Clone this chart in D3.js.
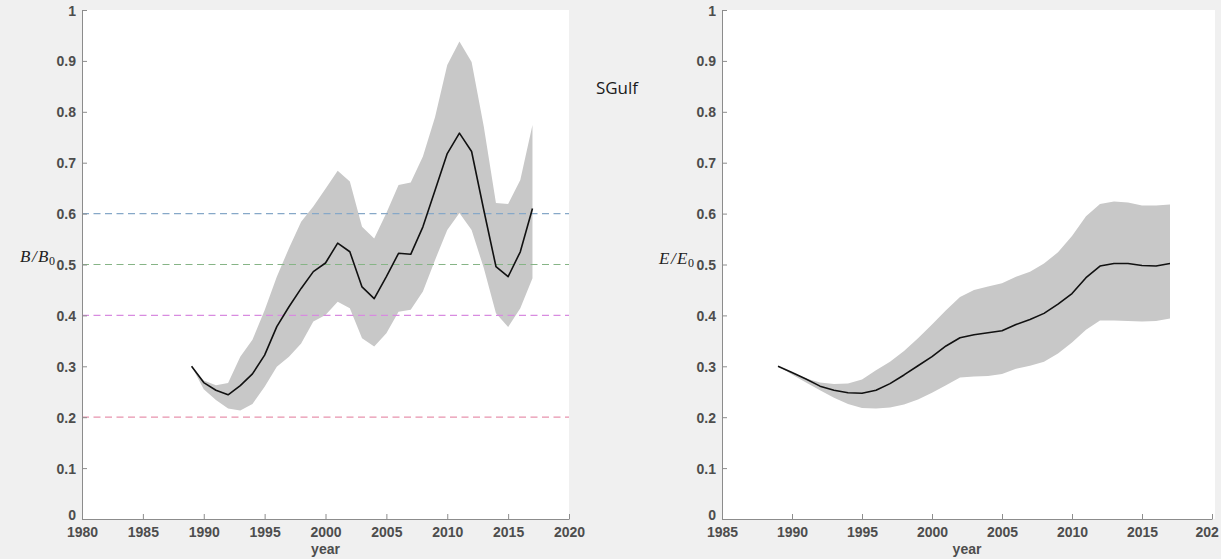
<!DOCTYPE html>
<html>
<head>
<meta charset="utf-8">
<script src="https://cdn.jsdelivr.net/npm/d3@7"></script>
<style>
  html, body { margin: 0; padding: 0; background: #f0f0f0; }
  svg { display: block; }
  .tick text { font-family: "Liberation Sans", Arial, sans-serif; font-size: 14px; font-weight: bold; fill: #4d4d4d; }
</style>
</head>
<body>
<svg id="fig" width="1228" height="559"></svg>
<script>
// Stock status series, 1989–2017
const years = [1989, 1990, 1991, 1992, 1993, 1994, 1995, 1996, 1997, 1998,
               1999, 2000, 2001, 2002, 2003, 2004, 2005, 2006, 2007, 2008,
               2009, 2010, 2011, 2012, 2013, 2014, 2015, 2016, 2017];

// Biomass relative to unfished (B/B0): median and credible band
const bMedian = [0.300, 0.268, 0.253, 0.244, 0.262, 0.285, 0.322, 0.378, 0.417, 0.453,
                 0.486, 0.503, 0.542, 0.525, 0.456, 0.433, 0.476, 0.522, 0.520, 0.574,
                 0.646, 0.718, 0.758, 0.722, 0.607, 0.496, 0.476, 0.525, 0.610];
const bUpper  = [0.300, 0.272, 0.263, 0.267, 0.319, 0.352, 0.410, 0.476, 0.532, 0.584,
                 0.614, 0.649, 0.684, 0.663, 0.574, 0.551, 0.601, 0.656, 0.661, 0.712,
                 0.790, 0.892, 0.938, 0.898, 0.771, 0.621, 0.619, 0.666, 0.774];
const bLower  = [0.300, 0.255, 0.234, 0.217, 0.213, 0.226, 0.260, 0.299, 0.319, 0.345,
                 0.388, 0.401, 0.427, 0.414, 0.355, 0.339, 0.365, 0.407, 0.411, 0.447,
                 0.509, 0.568, 0.601, 0.568, 0.493, 0.404, 0.377, 0.414, 0.473];

// Egg production relative to unfished (E/E0): median and credible band
const eMedian = [0.300, 0.288, 0.275, 0.261, 0.253, 0.248, 0.247, 0.253, 0.266, 0.283,
                 0.301, 0.319, 0.340, 0.356, 0.362, 0.366, 0.370, 0.382, 0.392, 0.404,
                 0.422, 0.443, 0.474, 0.497, 0.502, 0.502, 0.498, 0.497, 0.502];
const eUpper  = [0.300, 0.288, 0.276, 0.268, 0.265, 0.266, 0.274, 0.292, 0.309, 0.330,
                 0.355, 0.382, 0.410, 0.436, 0.450, 0.457, 0.463, 0.476, 0.486, 0.502,
                 0.524, 0.556, 0.595, 0.619, 0.624, 0.622, 0.616, 0.616, 0.618];
const eLower  = [0.300, 0.284, 0.268, 0.253, 0.238, 0.226, 0.218, 0.217, 0.219, 0.225,
                 0.235, 0.248, 0.263, 0.278, 0.280, 0.281, 0.285, 0.295, 0.301, 0.309,
                 0.325, 0.347, 0.372, 0.390, 0.390, 0.389, 0.388, 0.389, 0.394];

// Reference levels on the biomass panel
const refLevels = [0.6, 0.5, 0.4, 0.2];
const refColors = ["#86a8c8", "#86b486", "#d88be0", "#e893ad"];

// Axis ticks
const yTicks = [0, 0.1, 0.2, 0.3, 0.4, 0.5, 0.6, 0.7, 0.8, 0.9, 1];
const xTicksLeft = [1980, 1985, 1990, 1995, 2000, 2005, 2010, 2015, 2020];
const xTicksRight = [1985, 1990, 1995, 2000, 2005, 2010, 2015, 2020];
const xTickLabelsRight = ["1985", "1990", "1995", "2000", "2005", "2010", "2015", "202"];

const svg = d3.select("#fig");

// white strip along the right edge of the figure
svg.append("rect").attr("x", 1221).attr("y", 0).attr("width", 7).attr("height", 559).attr("fill", "#ffffff");

const y = d3.scaleLinear().domain([0, 1]).range([519, 10]);

function panel(opts) {
  const x = d3.scaleLinear().domain(opts.xDomain).range(opts.xRange);
  const g = svg.append("g");

  // axes background
  g.append("rect")
    .attr("x", opts.xRange[0]).attr("y", 10)
    .attr("width", opts.plotRight - opts.xRange[0]).attr("height", 509)
    .attr("fill", "#ffffff");

  const data = years.map((yr, i) => ({ yr, m: opts.median[i], lo: opts.lower[i], hi: opts.upper[i] }));

  // credible band
  g.append("path")
    .datum(data)
    .attr("fill", "#c8c8c8")
    .attr("d", d3.area().x(d => x(d.yr)).y0(d => y(d.lo)).y1(d => y(d.hi)));

  // reference lines
  (opts.refs || []).forEach((lv, i) => {
    g.append("line")
      .attr("x1", opts.xRange[0]).attr("x2", opts.plotRight)
      .attr("y1", y(lv)).attr("y2", y(lv))
      .attr("stroke", refColors[i]).attr("stroke-width", 1.2)
      .attr("stroke-dasharray", "7,4.5");
  });

  // median trajectory
  g.append("path")
    .datum(data)
    .attr("fill", "none")
    .attr("stroke", "#111111")
    .attr("stroke-width", 1.6)
    .attr("stroke-linejoin", "round")
    .attr("d", d3.line().x(d => x(d.yr)).y(d => y(d.m)));

  // y axis (ticks pointing inward)
  const ya = g.append("g")
    .attr("transform", `translate(${opts.xRange[0]},0)`)
    .call(d3.axisLeft(y).tickValues(yTicks).tickSizeInner(-5).tickSizeOuter(0).tickPadding(6)
      .tickFormat(d => String(+d.toFixed(1))));
  ya.select(".domain").attr("stroke", "#8c8c8c");
  ya.selectAll(".tick line").attr("stroke", "#8c8c8c");
  ya.selectAll(".tick text").attr("dy", d => d === 0 ? "0.05em" : "0.36em");

  // x axis (ticks pointing inward)
  const xa = g.append("g")
    .attr("transform", "translate(0,519)")
    .call(d3.axisBottom(x).tickValues(opts.xTicks).tickSizeInner(-5).tickSizeOuter(0).tickPadding(8)
      .tickFormat((d, i) => opts.xLabels ? opts.xLabels[i] : String(d)));
  xa.select(".domain").attr("stroke", "#8c8c8c");
  xa.selectAll(".tick line").attr("stroke", "#8c8c8c");
  if (opts.xLabels) {
    xa.selectAll(".tick text").filter((d, i) => i === opts.xLabels.length - 1).attr("text-anchor", "start").attr("dx", "-17");
  }

  // x label
  g.append("text")
    .attr("x", (opts.xRange[0] + opts.xRange[1]) / 2).attr("y", 554)
    .attr("text-anchor", "middle")
    .style("font-family", "Liberation Sans, Arial, sans-serif")
    .style("font-size", "14px").style("font-weight", "bold").style("fill", "#4d4d4d")
    .text("year");

  // y label, typeset like a math symbol
  const yl = g.append("text")
    .attr("x", opts.yLabelX).attr("y", opts.yLabelY)
    .attr("text-anchor", "end")
    .style("font-family", "Liberation Serif, Times New Roman, serif")
    .style("font-size", "17px").style("fill", "#222");
  yl.append("tspan").style("font-style", "italic").text(opts.sym);
  yl.append("tspan").attr("dx", 1.5).style("font-style", "italic").text("/");
  yl.append("tspan").attr("dx", 1.5).style("font-style", "italic").text(opts.sym);
  yl.append("tspan").attr("dx", 0.5).attr("dy", 3).style("font-size", "12px").text("0");
}

panel({
  xDomain: [1980, 2020], xRange: [82, 569], plotRight: 569,
  xTicks: xTicksLeft,
  median: bMedian, lower: bLower, upper: bUpper,
  refs: refLevels,
  sym: "B", yLabelX: 55, yLabelY: 262
});

panel({
  xDomain: [1985, 2020], xRange: [722, 1212], plotRight: 1215,
  xTicks: xTicksRight, xLabels: xTickLabelsRight,
  median: eMedian, lower: eLower, upper: eUpper,
  sym: "E", yLabelX: 694, yLabelY: 264
});

// stock area name
svg.append("text")
  .attr("x", 617).attr("y", 94)
  .attr("text-anchor", "middle")
  .style("font-family", "Open Sans, Noto Sans, sans-serif")
  .style("font-size", "17px").style("fill", "#1a1a1a")
  .text("SGulf");
</script>
</body>
</html>
